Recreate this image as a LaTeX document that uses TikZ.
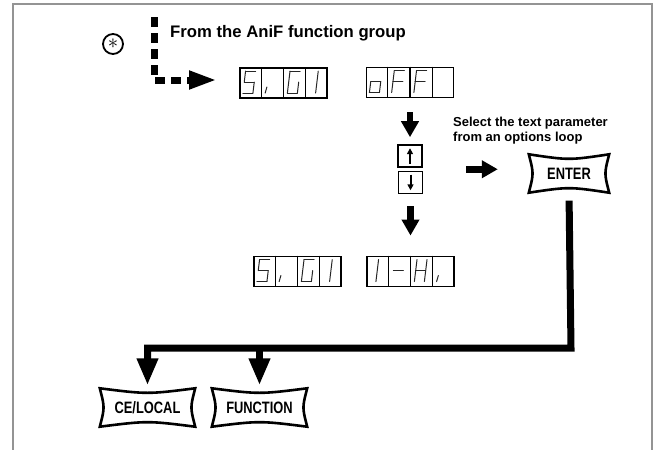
\documentclass[tikz,border=0pt]{standalone}
\usepackage{fontspec}
\setmainfont{Liberation Sans}
\newfontfamily\keyfont[FakeStretch=0.78]{Liberation Sans}
\usetikzlibrary{arrows.meta,calc}

% seven segment characters, as corner pairs
\def\digS{tb/ta,ta/ma,ma/mb,mb/bb,bb/ba}
\def\digi{ia/ba}
\def\digG{tb/ta,ta/ba,ba/bb,bb/mb}
\def\digI{tc/bc}
\def\digo{ma/mb,mb/bb,bb/ba,ba/ma}
\def\digF{tb/ta,ta/ba,ma/mb}
\def\digdash{ma/mb}
\def\digH{ta/ba,tb/bb,ma/mb}

\newcommand{\segcell}[3]{%
  \begin{scope}[shift={($(#1.north west)!{(#2-1)/4}!(#1.north east)$)},xslant=0.12]
    \coordinate (ta) at (7,4);  \coordinate (tb) at (17,4);
    \coordinate (ma) at (7,15); \coordinate (mb) at (17,15);
    \coordinate (ba) at (7,26); \coordinate (bb) at (17,26);
    \coordinate (tc) at (13,4); \coordinate (bc) at (13,26);
    \coordinate (ia) at (8,20);
    \foreach \p/\q in #3 {\draw[segline] (\p) -- (\q);}
  \end{scope}}

\tikzset{
  frameline/.style={draw=black!42, line width=2pt},
  display/.style={draw, line width=1.9pt, minimum width=87pt, minimum height=30pt, inner sep=0pt},
  cellline/.style={line width=1.2pt},
  segline/.style={line width=1pt, line cap=round, black!85},
  keybox/.style={minimum height=38pt, inner sep=0pt, font=\keyfont\bfseries\fontsize{16.5}{16.5}\selectfont},
  keyline/.style={line width=2.6pt, line join=miter},
  smallkey/.style={draw, line width=1.6pt, minimum width=24pt, minimum height=22pt, inner sep=0pt},
  blockarrow/.style={line width=6.5pt, -{Triangle[length=16pt,width=17pt]}},
  flowline/.style={line width=7pt, line join=miter, -{Triangle[length=27pt,width=20pt]}},
  dashflow/.style={line width=7pt, dash pattern=on 10pt off 6pt, -{Triangle[length=28pt,width=17pt]}},
}

\begin{document}
\begin{tikzpicture}[x=1pt,y=-1pt]
\useasboundingbox (0,0) rectangle (659,450);
\draw[frameline] (12.5,450) -- (12.5,4) -- (652,4) -- (652,450);

% entry from the AniF group
\node[draw, circle, line width=1.8pt, minimum size=20pt, inner sep=0pt, font=\fontsize{22}{22}\selectfont] (star) at (113,44) {$\ast$};
\node[anchor=base west, inner sep=0pt, font=\bfseries\fontsize{16.7}{20}\selectfont] (title) at (170,37) {From the AniF function group};
\coordinate (dtop) at (154,17);

% displays
\node[display] (sigi1) at (283.5,83) {};
\node[display] (off) at (410,82.5) {};
\node[display] (sigi2) at (297.5,271.5) {};
\node[display] (ihi) at (410.5,271.5) {};
\foreach \d in {sigi1,off,sigi2,ihi}
  \foreach \i in {1,2,3}
    \draw[cellline] ($(\d.north west)!{\i/4}!(\d.north east)$) -- ($(\d.south west)!{\i/4}!(\d.south east)$);

\segcell{sigi1}{1}{\digS} \segcell{sigi1}{2}{\digi} \segcell{sigi1}{3}{\digG} \segcell{sigi1}{4}{\digI}
\segcell{off}{1}{\digo} \segcell{off}{2}{\digF} \segcell{off}{3}{\digF}
\segcell{sigi2}{1}{\digS} \segcell{sigi2}{2}{\digi} \segcell{sigi2}{3}{\digG} \segcell{sigi2}{4}{\digI}
\segcell{ihi}{1}{\digI} \segcell{ihi}{2}{\digdash} \segcell{ihi}{3}{\digH} \segcell{ihi}{4}{\digi}

% up / down keys
\node[smallkey] (upkey) at (410,156) {};
\node[smallkey] (dnkey) at (410.5,182.5) {};
\draw[line width=2pt, -{Triangle[length=6pt,width=6pt]}] ($(upkey.south)+(0,-4)$) -- ($(upkey.north)+(0,4)$);
\draw[line width=2pt, -{Triangle[length=6pt,width=6pt]}] ($(dnkey.north)+(0,4)$) -- ($(dnkey.south)+(0,-4)$);
\coordinate (updn) at ($(upkey.south east)!0.5!(dnkey.north east)$);

% keys
\node[keybox, minimum width=80pt] (enter) at (569,173.5) {ENTER};
\node[keybox, minimum width=95pt] (ce) at (147.5,407.5) {CE/LOCAL};
\node[keybox, minimum width=95pt] (fn) at (259.5,407.5) {FUNCTION};
\foreach \k in {enter,ce,fn}
  \draw[keyline] (\k.north west) .. controls ($(\k.north)+(0,6)$) .. (\k.north east)
    .. controls ($(\k.east)+(-5,0)$) .. (\k.south east)
    .. controls ($(\k.south)+(0,-6)$) .. (\k.south west)
    .. controls ($(\k.west)+(5,0)$) .. cycle;

\node[anchor=north west, inner sep=0pt, align=left, font=\bfseries\fontsize{13}{14.5}\selectfont] (hint) at (453,117) {Select the text parameter\\from an options loop};

% arrows
\draw[dashflow] (dtop) |- ($(sigi1.west)+(-22,-3)$);
\draw[blockarrow, shorten <=14pt, shorten >=7pt] (off.south) -- (upkey.north);
\draw[blockarrow, shorten <=12pt, shorten >=20pt] (dnkey.south) -- (ihi.north);
\draw[blockarrow, shorten <=43pt, shorten >=31pt] (updn) -- (updn -| enter.west);
\coordinate (bus) at (571,348);
\draw[flowline, shorten <=8pt, shorten >=3pt] (enter.south) -- (bus) -| (ce.north);
\draw[flowline, shorten >=3pt] (fn.north |- bus) -- (fn.north);
\end{tikzpicture}
\end{document}
